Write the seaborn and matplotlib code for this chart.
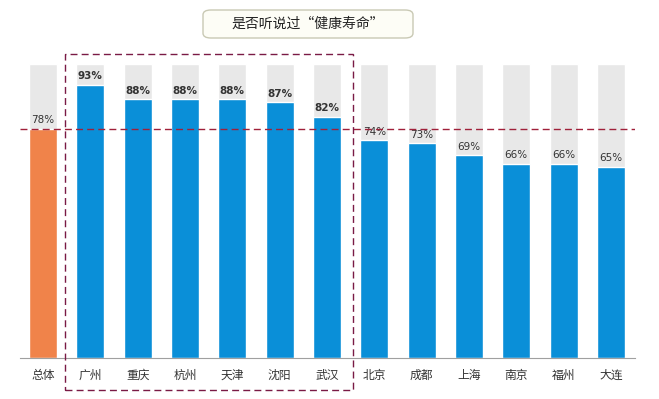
import pandas as pd
import seaborn as sns
import matplotlib.pyplot as plt
from matplotlib.patches import FancyBboxPatch, Rectangle

# data
cities = ['总体', '广州', '重庆', '杭州', '天津', '沈阳', '武汉',
          '北京', '成都', '上海', '南京', '福州', '大连']
values = [78, 93, 88, 88, 88, 87, 82, 74, 73, 69, 66, 66, 65]
groups = ['total'] + ['city'] * 12
full = [100] * len(cities)
overall = 78
title = '是否听说过“健康寿命”'

df = pd.DataFrame({'city': cities, 'value': values, 'group': groups, 'full': full})

sns.set_style('white')
plt.rcParams['font.family'] = ['Noto Sans CJK SC', 'DejaVu Sans']

fig = plt.figure(figsize=(6.59, 3.99), dpi=100)
W, H = 659, 399
ax = fig.add_axes([20 / W, 41 / H, 615 / W, 294 / H])

# gray 100% background bars
sns.barplot(data=df, x='city', y='full', color='#E8E8E8', width=0.59,
            saturation=1, ax=ax)
# actual values
sns.barplot(data=df, x='city', y='value', hue='group',
            palette={'total': '#F0834A', 'city': '#0A8FD8'},
            dodge=False, width=0.59, saturation=1, legend=False, ax=ax)

ax.set_xlim(-0.486, 12.51)
ax.set_ylim(0, 100)
ax.set_xlabel('')
ax.set_ylabel('')
ax.set_yticks([])
for s in ['top', 'right', 'left']:
    ax.spines[s].set_visible(False)
ax.spines['bottom'].set_color('#A0A0A0')
ax.spines['bottom'].set_linewidth(0.8)
ax.tick_params(axis='x', length=0, pad=8, labelsize=8.5, labelcolor='#333333')

# value labels
for i, v in enumerate(values):
    bold = 1 <= i <= 6
    ax.text(i, v + 1.2, f'{v}%', ha='center', va='bottom', fontsize=7.5,
            family='DejaVu Sans', color='#333333',
            fontweight='bold' if bold else 'normal')

# overall reference line
ax.axhline(overall, color='#A0203A', lw=1.0, ls=(0, (5, 3)), zorder=5)

# dashed box around top cities
ax.add_patch(Rectangle((0.465, -10.9), 6.55 - 0.465, 103.4 + 10.9,
                       fill=False, ec='#7A1A45', lw=1.0, ls=(0, (5, 3)),
                       clip_on=False, zorder=6))

# title box
box = FancyBboxPatch((203 / W, 1 - 38 / H), 210 / W, 28 / H,
                     boxstyle='round,pad=0,rounding_size=0.012',
                     transform=fig.transFigure, fc='#FDFDF6', ec='#C9C9B4', lw=1.0)
fig.patches.append(box)
fig.text(308 / W, 1 - 24 / H, title, ha='center', va='center', fontsize=10,
         color='#222222')

fig.savefig('out.png', dpi=100)
